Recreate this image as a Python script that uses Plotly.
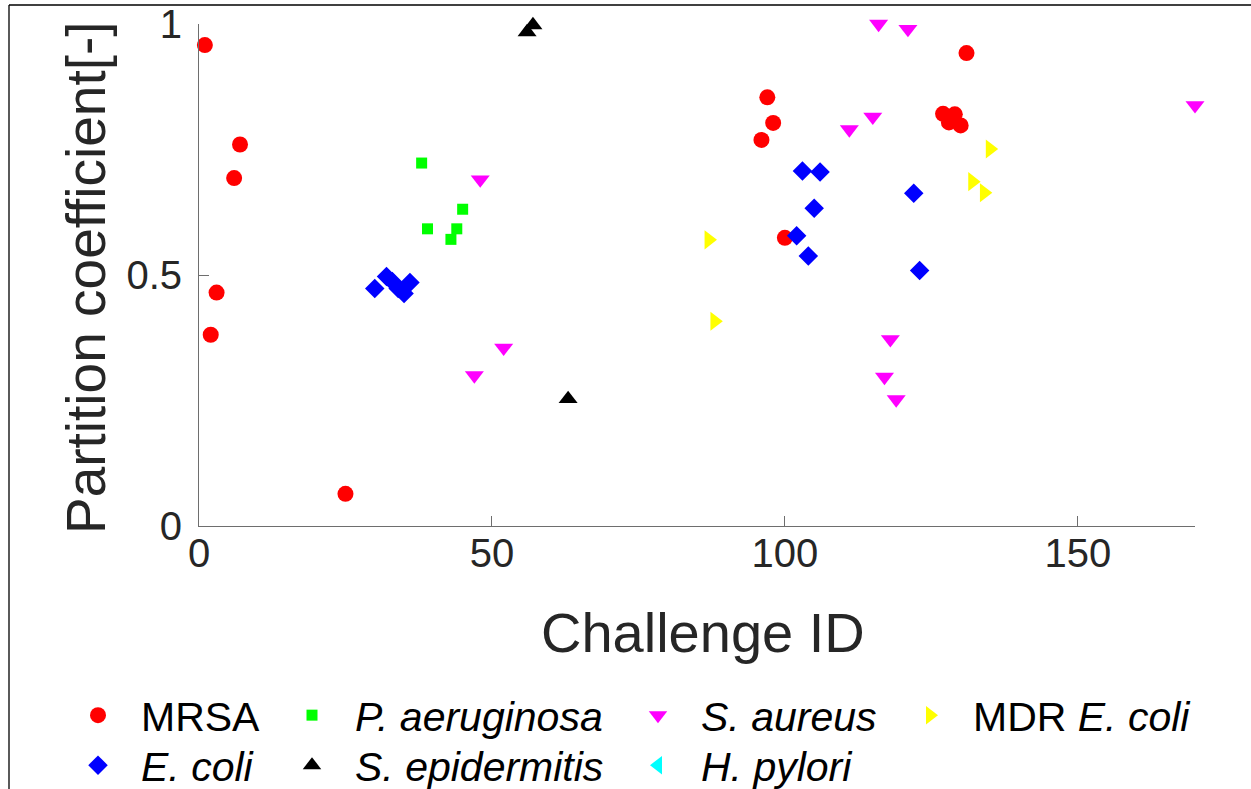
import plotly.graph_objects as go

# ---------------- data ----------------
mrsa_x = [1, 2, 3, 6, 7, 25, 96, 97, 98, 100, 127, 128, 129, 130, 131]
mrsa_y = [0.958, 0.381, 0.465, 0.693, 0.760, 0.064, 0.769, 0.854, 0.803, 0.574, 0.821, 0.804, 0.820, 0.798, 0.942]

ecoli_x = [30, 32, 33, 34, 35, 36, 102, 103, 104, 105, 106, 122, 123]
ecoli_y = [0.473, 0.497, 0.487, 0.473, 0.463, 0.485, 0.578, 0.707, 0.538, 0.633, 0.705, 0.663, 0.509]

paer_x = [38, 39, 43, 44, 45]
paer_y = [0.723, 0.592, 0.571, 0.592, 0.631]

sepi_x = [56, 57, 63]
sepi_y = [0.984, 0.998, 0.253]

saur_x = [47, 48, 52, 111, 115, 116, 117, 118, 119, 121, 170]
saur_y = [0.300, 0.690, 0.355, 0.790, 0.815, 1.000, 0.297, 0.372, 0.252, 0.990, 0.838]

hpyl_x = [None]   # listed in the legend, no points plotted
hpyl_y = [None]

mdr_x = [87, 88, 132, 134, 135]
mdr_y = [0.570, 0.408, 0.686, 0.664, 0.751]

x_ticks = [0, 50, 100, 150]
y_ticks = [0, 0.5, 1]
y_tick_text = ["0", "0.5", "1"]

x_title = "Challenge ID"
y_title = "Partition coefficient[-]"

FONT = "Liberation Sans, Arial, Helvetica, sans-serif"

# (name, x, y, symbol, color, size, legend id, column, row)
series = [
    ("MRSA", mrsa_x, mrsa_y, "circle", "#FF0000", 16, "legend", 0, 0),
    ("<i>E. coli</i>", ecoli_x, ecoli_y, "diamond", "#0000FF", 15, "legend2", 0, 1),
    ("<i>P. aeruginosa</i>", paer_x, paer_y, "square", "#00FF00", 11, "legend3", 1, 0),
    ("<i>S. epidermitis</i>", sepi_x, sepi_y, "triangle-up", "#000000", 16.5, "legend4", 1, 1),
    ("<i>S. aureus</i>", saur_x, saur_y, "triangle-down", "#FF00FF", 16.5, "legend5", 2, 0),
    ("<i>H. pylori</i>", hpyl_x, hpyl_y, "triangle-left", "#00FFFF", 16.5, "legend6", 2, 1),
    ("MDR <i>E. coli</i>", mdr_x, mdr_y, "triangle-right", "#FFFF00", 16.5, "legend7", 3, 0),
]

W, H = 1251, 789
L, R, T, B = 199, 56, 24, 263
pw, ph = W - L - R, H - T - B

col_starts = [55, 269, 615, 887]
row_tops = [682, 732]

fig = go.Figure()
legends = {}
for name, xs, ys, sym, col, sz, lg, c, r in series:
    fig.add_trace(go.Scatter(
        x=xs, y=ys, mode="markers", name=name,
        marker=dict(symbol=sym, color=col, size=sz, line=dict(width=0)),
        cliponaxis=False, legend=lg,
    ))
    legends[lg] = dict(
        orientation="v", xref="container", yref="container",
        xanchor="left", yanchor="top", bgcolor="rgba(0,0,0,0)",
        font=dict(family=FONT, size=41, color="#000000"),
        itemwidth=76,
        x=col_starts[c] / W, y=1 - row_tops[r] / H,
    )

fig.update_layout(
    width=W, height=H,
    margin=dict(l=L, r=R, t=T, b=B, autoexpand=False),
    paper_bgcolor="white", plot_bgcolor="white",
    font=dict(family=FONT, color="#262626"),
    showlegend=True,
    **legends,
    xaxis=dict(
        range=[0, 170], tickmode="array", tickvals=x_ticks,
        ticks="inside", ticklen=10, tickcolor="#6e6e6e", tickwidth=1,
        showline=True, linecolor="#6e6e6e", linewidth=1,
        showgrid=False, zeroline=False, ticklabelstandoff=-8,
        tickfont=dict(family=FONT, size=40, color="#262626"),
    ),
    yaxis=dict(
        range=[0, 1], tickmode="array", tickvals=y_ticks, ticktext=y_tick_text,
        ticks="inside", ticklen=10, tickcolor="#6e6e6e", tickwidth=1,
        showline=True, linecolor="#6e6e6e", linewidth=1,
        showgrid=False, zeroline=False, ticklabelstandoff=8,
        tickfont=dict(family=FONT, size=40, color="#262626"),
    ),
)

# axis titles
fig.add_annotation(text=x_title, xref="paper", yref="paper",
                   x=(703 - L) / pw, y=(H - B - 632) / ph, xanchor="center", yanchor="middle",
                   showarrow=False, font=dict(family=FONT, size=56, color="#262626"))
fig.add_annotation(text=y_title, xref="paper", yref="paper", textangle=-90,
                   x=(86 - L) / pw, y=(H - B - 278) / ph, xanchor="center", yanchor="middle",
                   showarrow=False, font=dict(family=FONT, size=55, color="#262626"))

# figure frame (top and left edges visible)
fx = (9 - L) / pw
fy = (H - B - 5) / ph
fig.add_shape(type="line", xref="paper", yref="paper", x0=fx, x1=(W - L) / pw + 0.01, y0=fy, y1=fy,
              line=dict(color="black", width=1.3))
fig.add_shape(type="line", xref="paper", yref="paper", x0=fx, x1=fx, y0=fy, y1=-(B + 5) / ph,
              line=dict(color="black", width=1.3))

fig.write_html("out.html")
